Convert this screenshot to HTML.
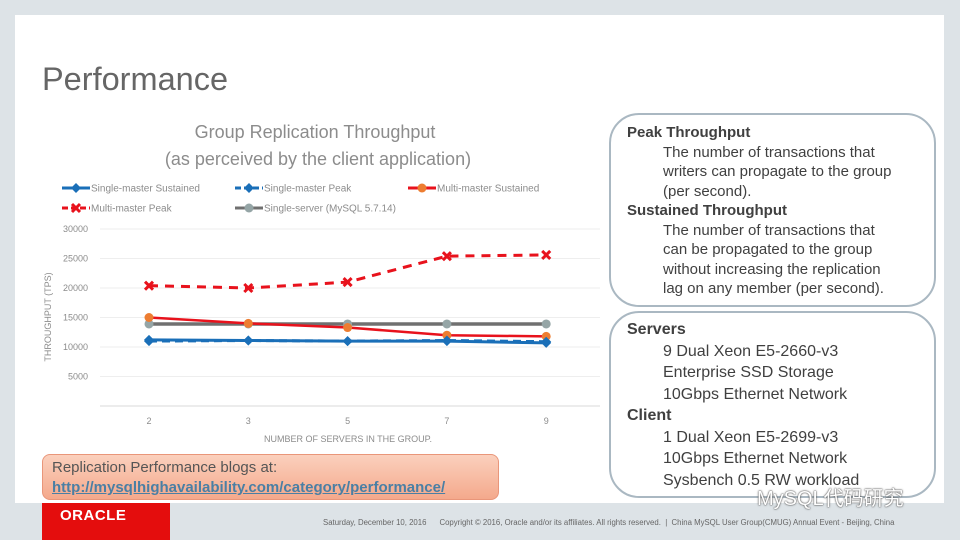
<!DOCTYPE html>
<html><head><meta charset="utf-8"><style>
body{margin:0;width:960px;height:540px;background:#dde3e7;font-family:"Liberation Sans","Noto Sans CJK SC",sans-serif;position:relative;overflow:hidden}
.slide{position:absolute;left:15px;top:15px;width:929px;height:488px;background:#fff}
.title{position:absolute;left:42px;top:61px;font-size:32.5px;color:#666}
.box{position:absolute;left:609px;width:327px;border:2px solid #aab8c2;border-radius:30px;background:#fff;color:#404040;font-size:15px;line-height:19.5px;box-sizing:border-box;padding:8px 0 0 16px;white-space:nowrap}
.box b{display:block}
.box .i{padding-left:36px}
.blog{position:absolute;left:42px;top:454px;width:457px;height:46px;border:1px solid #e9967a;border-radius:8px;background:linear-gradient(#fbd0bd,#f4a98c);box-sizing:border-box;padding:3px 9px;font-size:15px;color:#555;line-height:20px}
.blog a{color:#4a7fa4;font-weight:bold;text-decoration:underline}
.oracle{position:absolute;left:42px;top:503px;width:128px;height:37px;background:#e40d0d;color:#fff;font-weight:bold;font-size:15px;padding:4px 0 0 18px;box-sizing:border-box;letter-spacing:.5px}
.foot{position:absolute;left:323px;top:518px;font-size:7.8px;color:#666;white-space:nowrap}
.wm{position:absolute;left:757px;top:482px;font-size:20px;color:#fff;text-shadow:0 0 2px #555,0 0 1px #333}
</style></head><body>
<div class="slide"></div>
<div class="title">Performance</div>
<svg id="chart" width="600" height="450" style="position:absolute;left:0;top:0" font-family="Liberation Sans, sans-serif"></svg>
<div class="box" style="top:113px;height:194px"><b>Peak Throughput</b><div class="i">The number of transactions that<br>writers can propagate to the group<br>(per second).</div><b>Sustained Throughput</b><div class="i">The number of transactions that<br>can be propagated to the group<br>without increasing the replication<br>lag on any member (per second).</div></div>
<div class="box" style="top:311px;height:187px;line-height:21.5px;font-size:16px;padding-top:6px"><b>Servers</b><div class="i">9 Dual Xeon E5-2660-v3<br>Enterprise SSD Storage<br>10Gbps Ethernet Network</div><b>Client</b><div class="i">1 Dual Xeon E5-2699-v3<br>10Gbps Ethernet Network<br>Sysbench 0.5 RW workload</div></div>
<div class="blog">Replication Performance blogs at:<br><a>http://mysqlhighavailability.com/category/performance/</a></div>
<div class="oracle">ORACLE</div>
<div class="foot">Saturday, December 10, 2016 &nbsp;&nbsp;&nbsp;&nbsp;&nbsp;Copyright © 2016, Oracle and/or its affiliates. All rights reserved. &nbsp;| &nbsp;China MySQL User Group(CMUG) Annual Event - Beijing, China</div>
<div class="wm">MySQL代码研究</div>
<script>
const categories=["2","3","5","7","9"];
const yTicks=[5000,10000,15000,20000,25000,30000];
const smSustained=[11200,11100,11000,11000,10700];
const smPeak=[11000,11100,11000,11100,10900];
const mmSustained=[15000,14000,13300,12000,11800];
const mmPeak=[20400,20000,21000,25400,25600];
const single=[13900,13900,13900,13900,13900];
const NS="http://www.w3.org/2000/svg";
const svg=document.getElementById('chart');
function xs(i){return 149+i*99.3;}
function ys(v){return 406-v*(177/30000);}
function mk(t,a,p){const e=document.createElementNS(NS,t);for(const k in a)e.setAttribute(k,a[k]);(p||svg).appendChild(e);return e;}
function txt(x,y,s,a){const e=mk('text',Object.assign({x:x,y:y,fill:'#8c8c8c','font-size':9},a||{}));e.textContent=s;return e;}
let t=txt(315,138,'Group Replication Throughput',{'font-size':18,'text-anchor':'middle',fill:'#8c8c8c'});


t=txt(318,165,'(as perceived by the client application)',{'font-size':18,'text-anchor':'middle'});


yTicks.forEach(v=>{const g=mk('line',{x1:100,x2:600,y1:ys(v),y2:ys(v),stroke:'#eee'});


const l=txt(88,ys(v)+3,String(v),{'text-anchor':'end'});

});
mk('line',{x1:100,x2:600,y1:406,y2:406,stroke:'#d9d9d9'});
categories.forEach((c,i)=>{const l=txt(xs(i),424,c,{'text-anchor':'middle'});

});
t=txt(348,442,'NUMBER OF SERVERS IN THE GROUP.',{'text-anchor':'middle'});


t=txt(0,0,'THROUGHPUT (TPS)',{'text-anchor':'middle',transform:'translate(51,317) rotate(-90)'});


function marker(x,y,type,color,g){
 if(type==='diamond')mk('path',{d:`M${x} ${y-5}L${x+5} ${y}L${x} ${y+5}L${x-5} ${y}Z`,fill:color},g);
 else if(type==='circle')mk('circle',{cx:x,cy:y,r:4.5,fill:color},g);
 else if(type==='x'){mk('path',{d:`M${x-4} ${y-4}L${x+4} ${y+4}M${x+4} ${y-4}L${x-4} ${y+4}`,stroke:color,'stroke-width':3},g);}
}
const series=[
 {name:'multi-master-peak',vals:mmPeak,color:'#e8121c',dash:'9 7',m:'x',mc:'#e8121c',w:3},
 {name:'single-server',vals:single,color:'#707070',dash:'',m:'circle',mc:'#95a5a6',w:3.5},
 {name:'multi-master-sustained',vals:mmSustained,color:'#e8121c',dash:'',m:'circle',mc:'#ed7d31',w:2.5},
 {name:'single-master-peak',vals:smPeak,color:'#1a6fb8',dash:'8 5',m:'diamond',mc:'#1a6fb8',w:3},
 {name:'single-master-sustained',vals:smSustained,color:'#1a6fb8',dash:'',m:'diamond',mc:'#1a6fb8',w:3}
];
series.forEach(s=>{const g=mk('g',{});


mk('polyline',{points:s.vals.map((v,i)=>xs(i)+','+ys(v)).join(' '),fill:'none',stroke:s.color,'stroke-width':s.w,'stroke-dasharray':s.dash},g);
s.vals.forEach((v,i)=>marker(xs(i),ys(v),s.m,s.mc,g));});
const legend=[['Single-master Sustained',62,188,'#1a6fb8','','diamond','#1a6fb8'],['Single-master Peak',235,188,'#1a6fb8','6 3','diamond','#1a6fb8'],['Multi-master Sustained',408,188,'#e8121c','','circle','#ed7d31'],['Multi-master Peak',62,208,'#e8121c','6 3','x','#e8121c'],['Single-server (MySQL 5.7.14)',235,208,'#707070','','circle','#95a5a6']];
legend.forEach(l=>{const g=mk('g',{});


mk('line',{x1:l[1],x2:l[1]+28,y1:l[2],y2:l[2],stroke:l[3],'stroke-width':3,'stroke-dasharray':l[4]},g);
marker(l[1]+14,l[2],l[5],l[6],g);
const tx=txt(l[1]+29,l[2]+3.5,l[0],{'font-size':10});g.appendChild(tx);});
</script>
</body></html>
